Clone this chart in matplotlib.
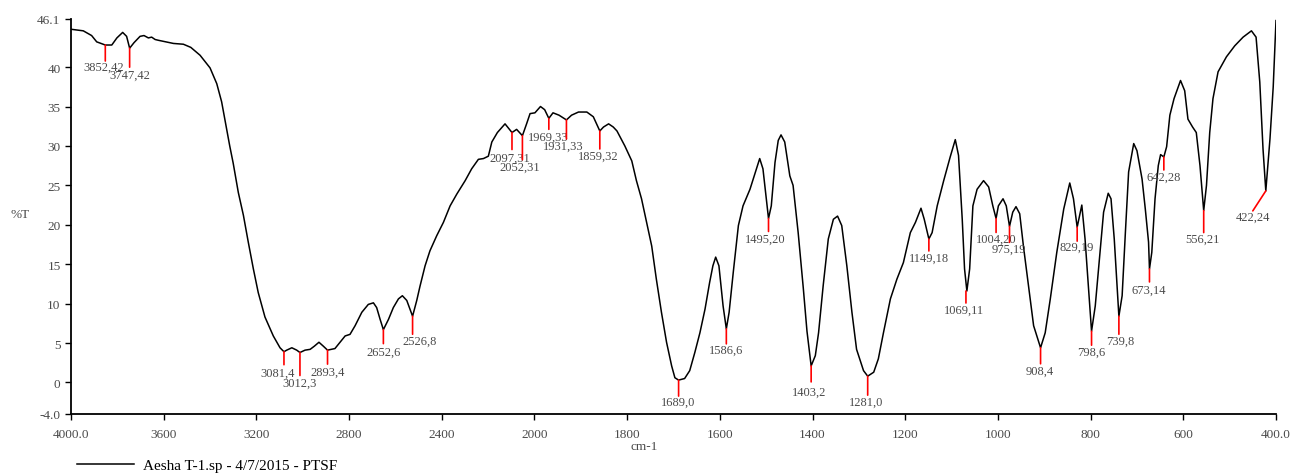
import numpy as np
import matplotlib
matplotlib.use('Agg')
import matplotlib.pyplot as plt

# spectrum: wavenumber (cm-1) and %T
wavenumber = [4000, 3947, 3911, 3889, 3852, 3824, 3802, 3777, 3760, 3747,
              3728, 3702, 3685, 3666, 3652, 3637, 3623, 3558, 3515, 3483,
              3443, 3400, 3371, 3350, 3330, 3315, 3300, 3278, 3256, 3235,
              3213, 3192, 3163, 3127, 3098, 3081, 3069, 3047, 3026, 3012,
              2990, 2968, 2950, 2930, 2911, 2893, 2861, 2839, 2817, 2796,
              2774, 2745, 2717, 2695, 2681, 2666, 2652, 2630, 2609, 2587,
              2570, 2551, 2526, 2508, 2494, 2472, 2451, 2422, 2393, 2364,
              2335, 2299, 2271, 2242, 2220, 2199, 2184, 2160, 2127, 2097,
              2077, 2052, 2034, 2019, 1999, 1987, 1978, 1969, 1960, 1947,
              1931, 1920, 1905, 1887, 1873, 1859, 1851, 1840, 1830, 1822,
              1805, 1790, 1780, 1769, 1758, 1747, 1737, 1726, 1715, 1704,
              1697, 1689, 1676, 1665, 1654, 1643, 1632, 1622, 1615, 1609,
              1602, 1593, 1586, 1580, 1571, 1560, 1550, 1535, 1522, 1514,
              1507, 1499, 1495, 1489, 1481, 1474, 1468, 1460, 1449, 1442,
              1431, 1420, 1412, 1403, 1394, 1387, 1377, 1366, 1355, 1346,
              1337, 1326, 1315, 1305, 1290, 1281, 1268, 1258, 1247, 1232,
              1218, 1204, 1189, 1178, 1166, 1159, 1149, 1142, 1131, 1117,
              1103, 1092, 1085, 1077, 1072, 1067, 1061, 1054, 1045, 1031,
              1020, 1011, 1004, 999, 989, 982, 975, 968, 961, 953,
              945, 934, 923, 908, 898, 887, 873, 858, 845, 837,
              829, 819, 812, 804, 798, 790, 779, 772, 762, 756,
              749, 743, 739, 732, 725, 718, 707, 700, 689, 682,
              675, 673, 668, 661, 654, 649, 642, 636, 629, 620,
              606, 597, 590, 580, 572, 564, 556, 550, 543, 536,
              525, 507, 489, 471, 453, 443, 435, 428, 422, 413,
              406, 400]
transmittance = [44.8, 44.6, 44.0, 43.2, 42.8, 42.8, 43.7, 44.4, 43.9, 42.4,
                 43.1, 43.9, 44.0, 43.7, 43.8, 43.5, 43.4, 43.0, 42.9, 42.5,
                 41.5, 39.9, 37.9, 35.6, 32.4, 30.0, 27.8, 24.1, 21.2, 17.8,
                 14.4, 11.4, 8.3, 5.9, 4.4, 3.9, 4.1, 4.4, 4.1, 3.8,
                 4.1, 4.2, 4.6, 5.1, 4.6, 4.1, 4.3, 5.1, 5.9, 6.1,
                 7.2, 8.9, 9.9, 10.1, 9.5, 8.0, 6.7, 8.0, 9.5, 10.6,
                 11.0, 10.4, 8.4, 10.4, 12.2, 14.8, 16.7, 18.6, 20.3, 22.4,
                 23.9, 25.6, 27.1, 28.3, 28.4, 28.7, 30.5, 31.7, 32.8, 31.7,
                 32.1, 31.3, 32.8, 34.1, 34.2, 35.0, 34.6, 33.5, 34.2, 33.9,
                 33.3, 33.9, 34.3, 34.3, 33.7, 31.9, 32.4, 32.8, 32.4, 31.9,
                 30.0, 28.1, 25.6, 23.3, 20.3, 17.3, 13.1, 8.9, 5.1, 2.1,
                 0.6, 0.3, 0.5, 1.5, 3.8, 6.3, 9.3, 12.7, 14.8, 15.9,
                 14.8, 9.7, 6.8, 8.9, 14.0, 19.9, 22.4, 24.5, 26.9, 28.4,
                 27.1, 22.9, 20.8, 22.4, 27.9, 30.7, 31.4, 30.5, 26.2, 25.0,
                 19.0, 12.0, 6.5, 2.1, 3.4, 6.3, 12.3, 18.2, 20.7, 21.1,
                 19.9, 14.8, 8.9, 4.2, 1.5, 0.8, 1.3, 3.0, 6.3, 10.6,
                 13.1, 15.2, 19.0, 20.3, 22.1, 20.7, 18.2, 19.0, 22.4, 25.6,
                 28.6, 30.8, 28.8, 20.7, 14.4, 11.6, 14.4, 22.4, 24.5, 25.6,
                 24.8, 22.4, 20.8, 22.4, 23.3, 22.4, 19.8, 21.6, 22.3, 21.4,
                 17.3, 12.3, 7.2, 4.4, 6.3, 10.6, 16.5, 22.0, 25.3, 23.3,
                 19.7, 22.5, 18.2, 11.4, 6.5, 9.7, 16.9, 21.6, 24.0, 23.3,
                 18.2, 12.3, 8.4, 11.0, 19.0, 26.7, 30.3, 29.4, 25.8, 22.0,
                 17.8, 14.4, 16.5, 23.3, 27.5, 28.9, 28.6, 29.9, 33.9, 36.0,
                 38.3, 37.0, 33.4, 32.4, 31.7, 27.5, 21.8, 25.0, 31.7, 36.0,
                 39.4, 41.3, 42.7, 43.8, 44.6, 43.8, 38.1, 29.6, 24.3, 30.9,
                 37.5, 45.9]

# picked peaks
peak_wn = [3852, 3747, 3081, 3012, 2893, 2652, 2526, 2097, 2052, 1969,
           1931, 1859, 1689, 1586, 1495, 1403, 1281, 1149, 1069, 1004,
           975, 908, 829, 798, 739, 673, 642, 556, 422]
peak_t = [42.8, 42.4, 3.9, 3.8, 4.1, 6.7, 8.4, 31.7, 31.3, 33.5,
          33.3, 31.9, 0.3, 6.8, 20.8, 2.1, 0.8, 18.2, 11.6, 20.8,
          19.8, 4.4, 19.7, 6.5, 8.4, 14.4, 28.6, 21.8, 24.3]
peak_labels = ['3852,42', '3747,42', '3081,4', '3012,3', '2893,4', '2652,6',
               '2526,8', '2097,31', '2052,31', '1969,33', '1931,33', '1859,32',
               '1689,0', '1586,6', '1495,20', '1403,2', '1281,0', '1149,18',
               '1069,11', '1004,20', '975,19', '908,4', '829,19', '798,6',
               '739,8', '673,14', '642,28', '556,21', '422,24']

x_ticks = [4000, 3600, 3200, 2800, 2400, 2000, 1800, 1600, 1400, 1200,
           1000, 800, 600, 400]
x_ticklabels = ['4000.0', '3600', '3200', '2800', '2400', '2000', '1800',
                '1600', '1400', '1200', '1000', '800', '600', '400.0']
y_ticks = [-4.0, 0, 5, 10, 15, 20, 25, 30, 35, 40, 46.1]
y_ticklabels = ['-4.0', '0', '5', '10', '15', '20', '25', '30', '35', '40', '46.1']

# marker stick end and label centre, offsets in pixels from the peak point
stick_off = [(0, -16), (0, -19), (0, -13), (0, -23), (0, -14), (0, -14),
             (0, -18), (0, -17), (0, -24), (0, -11), (0, -19), (0, -18),
             (0, -16), (0, -15), (0, -13), (0, -16), (0, -19), (0, -12),
             (0, -12), (0, -14), (0, -16), (0, -16), (0, -14), (0, -14),
             (0, -18), (0, -13), (0, -13), (0, -22), (-13, -20)]
label_off = [(-2, -22), (0, -27), (-6, -21), (0, -30), (0, -22), (0, -22),
             (7, -24), (-2, -25), (-3, -31), (-1, -18), (-3, -26), (-2, -25),
             (0, -22), (0, -21), (-3, -20), (-2, -26), (-2, -26), (0, -19),
             (-2, -19), (0, -20), (-1, -22), (-1, -23), (0, -20), (0, -21),
             (1, -24), (-1, -21), (0, -20), (-1, -28), (-13, -26)]


def fwd(x):
    x = np.asarray(x, dtype=float)
    return np.where(x > 2000, 2000 + (x - 2000) / 2.0, x)


def inv(u):
    u = np.asarray(u, dtype=float)
    return np.where(u > 2000, 2000 + (u - 2000) * 2.0, u)


plt.rcParams['font.family'] = ['Liberation Serif', 'DejaVu Serif']
text_grey = '#4a4a4a'

W, H = 1306, 477
fig = plt.figure(figsize=(W / 100, H / 100), dpi=100)
ax = fig.add_axes([71 / W, 1 - 415 / H, 1205 / W, 395 / H])

ax.set_xscale('function', functions=(fwd, inv))
line, = ax.plot(wavenumber, transmittance, color='black', lw=1.1)
ax.set_xlim(4000, 400)
ax.set_ylim(-4.0, 46.1)

for w, t, lbl, so, lo in zip(peak_wn, peak_t, peak_labels, stick_off, label_off):
    ax.annotate('', xy=(w, t), xytext=so, textcoords='offset pixels',
                arrowprops=dict(arrowstyle='-', color='red', lw=1.2,
                                shrinkA=0, shrinkB=0))
    ax.annotate(lbl, xy=(w, t), xytext=lo, textcoords='offset pixels',
                ha='center', va='center', fontsize=9, color=text_grey)

ax.set_xticks(x_ticks)
ax.set_xticklabels(x_ticklabels)
ax.set_yticks(y_ticks)
ax.set_yticklabels(y_ticklabels)
ax.minorticks_off()
ax.tick_params(direction='out', length=4, width=1.0, colors='black',
               labelcolor=text_grey, labelsize=9.5)
ax.tick_params(axis='x', pad=6)

for side in ['top', 'right']:
    ax.spines[side].set_visible(False)
for side in ['left', 'bottom']:
    ax.spines[side].set_linewidth(1.3)

ax.set_xlabel('cm-1', fontsize=9.5, color=text_grey)
ax.xaxis.set_label_coords(0.476, -0.065)
ax.set_ylabel('%T', fontsize=9.5, color=text_grey, rotation=0)
ax.yaxis.set_label_coords(-0.042, 0.49)

fig.legend([line], ['Aesha T-1.sp - 4/7/2015 - PTSF'], loc='center left',
           bbox_to_anchor=(77 / W, 1 - 466.5 / H), frameon=False,
           borderpad=0, borderaxespad=0, handlelength=3.7,
           handletextpad=0.6, fontsize=11)

fig.savefig('out.png', dpi=100)
